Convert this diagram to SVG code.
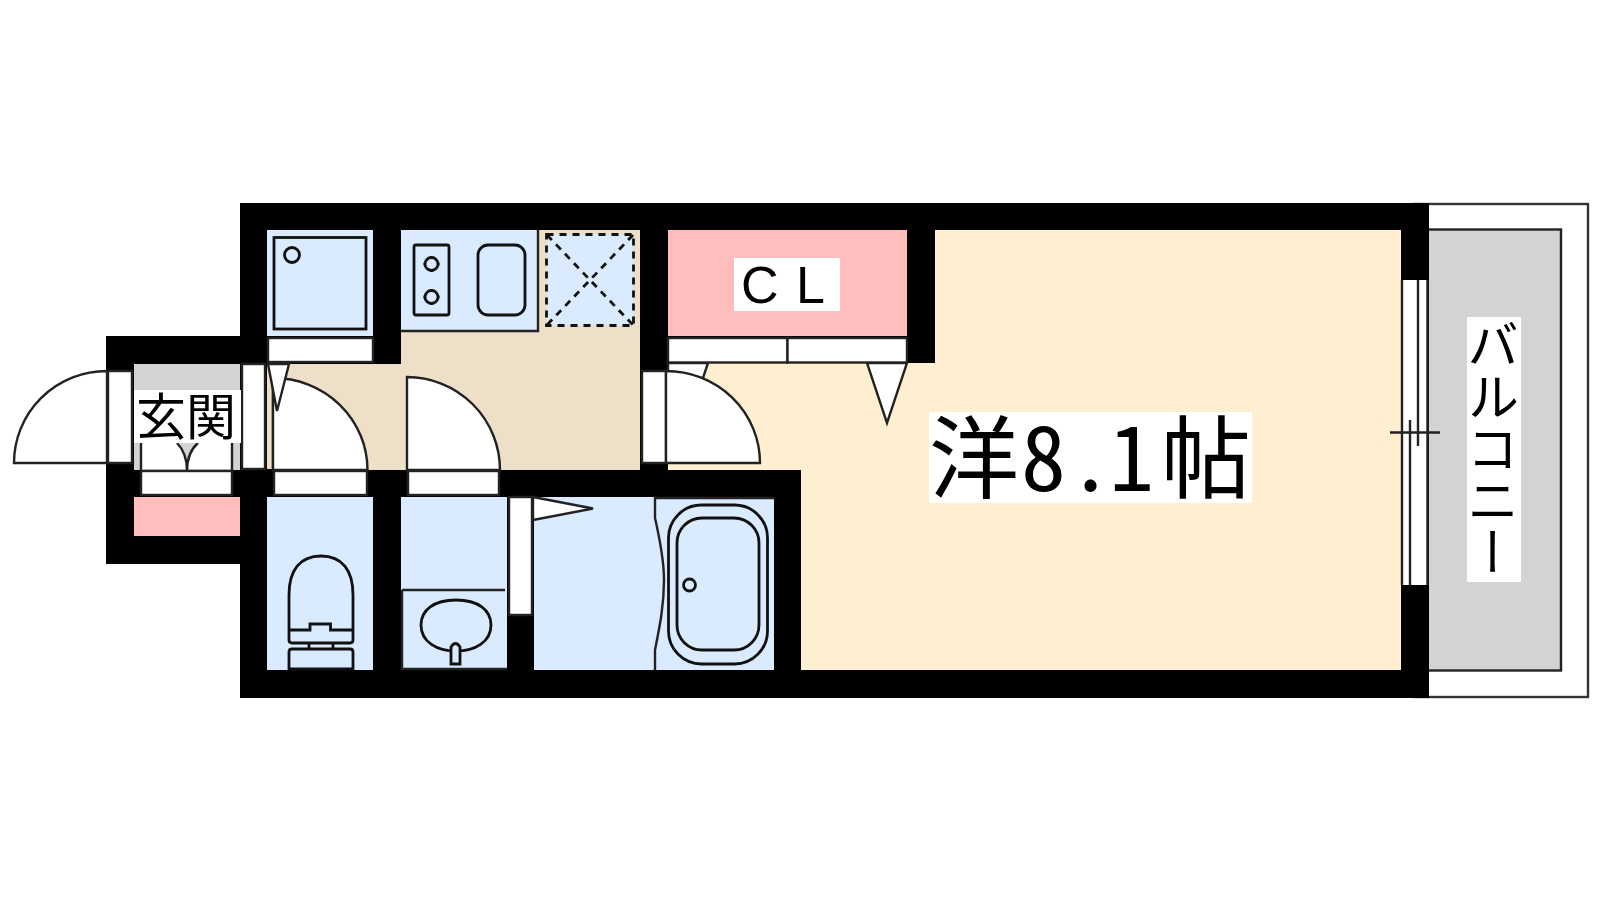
<svg xmlns="http://www.w3.org/2000/svg" width="1600" height="900" viewBox="0 0 1600 900">
<style>
.k{fill:#000}
.w{fill:#fff;stroke:#222;stroke-width:2.4}
.wn{fill:#fff}
.l{fill:none;stroke:#222;stroke-width:2.4}
.b{fill:#daeaff}
.o{fill:none;stroke:#111;stroke-width:2.8}
.p{fill:#ffbdbd}
.g{fill:#d3d3d3}
.d{fill:none;stroke:#111;stroke-width:2.8;stroke-dasharray:7 6}
.t{font-family:"Noto Sans CJK JP","Noto Sans CJK SC",sans-serif;fill:#000}
</style>
<rect width="1600" height="900" fill="#fff"/>
<g id="balcony">
<rect x="1414" y="204" width="174" height="493" fill="#fff" stroke="#333" stroke-width="2.400"/>
<rect x="1425" y="229.500" width="136" height="441" fill="#d3d3d3" stroke="#222" stroke-width="2.400"/>
</g>
<g id="walls">
<rect class="k" x="240" y="203" width="1189" height="495"/>
<rect class="k" x="106" y="336" width="140" height="228"/>
</g>
<g id="room-main">
<path fill="#fdefd0" d="M935 230H1401V670H801V470H668V363H935Z"/>
<path class="k" d="M907 230H935V363H907Z"/>
<rect class="k" x="640" y="463" width="28" height="8"/>
<path class="w" d="M867 363L907 363L887 423Z"/>
<path class="w" d="M668 363L708 363L702 381L668 381Z"/>
<rect class="w" x="642" y="371" width="24" height="92"/>
<path class="w" d="M666 371A94 92 0 0 1 760 463H666Z"/>
</g>
<g id="closet">
<rect class="p" x="668" y="230" width="239" height="106"/>
<rect class="w" x="668" y="338" width="119.500" height="24.500"/>
<rect class="w" x="787.500" y="338" width="119.500" height="24.500"/>
<rect class="wn" x="734" y="258" width="106" height="53"/>
<text class="t" style="font-family:'Liberation Sans',sans-serif;word-spacing:3px" x="741" y="303" font-size="52">C L</text>
</g>
<g id="kitchen">
<path fill="#eedfc8" d="M267 364H401V230H640V470H267Z"/>
<rect class="b" x="401" y="230" width="137" height="101"/>
<path class="l" d="M401 331H538V230"/>
<rect class="o" x="414" y="245" width="35" height="70" rx="2"/>
<circle class="o" cx="431.500" cy="264" r="6.500"/>
<circle class="o" cx="431.500" cy="297" r="6.500"/>
<path class="o" d="M431.500 256v2M431.500 270v2M431.500 289v2M431.500 303v2M423.500 264h2M437.500 264h2M423.500 297h2M437.500 297h2"/>
<rect class="o" x="478" y="245" width="47" height="70" rx="10"/>
<rect class="b" x="547" y="235" width="86" height="90"/>
<rect class="d" x="546.500" y="234.500" width="87" height="91"/>
<path class="d" d="M547 235L633 325M633 235L547 325"/>
</g>
<g id="doors-hall">
<rect class="k" x="240" y="469" width="34" height="28"/>
<rect class="k" x="367" y="470" width="434" height="27"/>
<path class="l" d="M273 364V470"/>
<path class="w" d="M273 378A94 92 0 0 1 367.500 470H273Z"/>
<path class="w" d="M268 364H289L277 411Z"/>
<path class="w" d="M407 377A93 93 0 0 1 500 470H407Z"/>
<rect class="w" x="274" y="471" width="93" height="24"/>
<rect class="w" x="408" y="471" width="91" height="24"/>
<rect class="w" x="242" y="364" width="23" height="105"/>
</g>
<g id="washer">
<rect class="b" x="267" y="230" width="106" height="106"/>
<rect class="o" x="274" y="237.500" width="92" height="91.500"/>
<circle class="o" cx="292" cy="255" r="7.500"/>
<rect class="w" x="268" y="338" width="105" height="24"/>
</g>
<g id="entrance">
<rect class="g" x="134" y="364" width="106" height="106"/>
<rect class="w" x="141" y="430" width="91" height="41"/>
<path class="g" d="M177 443C183 449 187 458 187 471C187 458 191 449 198 443Z"/>
<path class="l" d="M177 443C183 449 187 458 187 471M198 443C191 449 187 458 187 471"/>
<rect class="k" x="134" y="471" width="7" height="26"/>
<rect class="k" x="232" y="471" width="8" height="26"/>
<rect class="w" x="141" y="471" width="91" height="24"/>
<rect class="p" x="134" y="497" width="106" height="39"/>
<rect class="w" x="108" y="371" width="24" height="92"/>
<path class="w" d="M107 371A93 92 0 0 0 14 463H107Z"/>
<rect class="wn" x="134" y="390" width="107" height="53"/>
<text class="t" x="136" y="435" font-size="50">玄関</text>
</g>
<g id="toilet">
<rect class="b" x="267" y="497" width="106" height="173"/>
<path class="o" d="M289 595C289 570 300 556 321 556C342 556 353 570 353 595V640Q353 643 350 643H292Q289 643 289 640ZM289 630H310V624H330.500V630H353M309 643V650M333 643V650"/>
<path class="o" d="M289 669V652Q289 649 292 649H350Q353 649 353 652V669Z"/>
</g>
<g id="washroom">
<rect class="b" x="401" y="497" width="106" height="173"/>
<path class="l" d="M402 590H505M402 590V669H507"/>
<path class="o" d="M456 600C478 600 491 610 491 625C491 642 475 651 456 651C437 651 421 642 421 625C421 610 434 600 456 600Z"/>
<path fill="#daeaff" stroke="#111" stroke-width="2.800" d="M451 664V647Q455.500 640 460 647V664Z"/>
</g>
<g id="bath">
<rect class="b" x="534" y="497" width="240" height="173"/>
<rect class="w" x="509" y="497" width="23" height="118"/>
<path class="w" d="M533 497L593 508.500L533 520Z"/>
<path class="l" d="M774 498H655V518C660 540 664 560 664 580C664 605 660 625 655 650V670"/>
<rect class="o" x="668.500" y="505" width="99" height="159" rx="33"/>
<rect class="o" x="677" y="518" width="82" height="132" rx="25"/>
<circle class="o" cx="689.500" cy="585" r="6"/>
</g>
<g id="window">
<rect class="wn" x="1402" y="280" width="26" height="305"/>
<path class="l" d="M1402 280V585M1427.500 280V585M1418 280V446M1410 420V585M1390 432.500H1440"/>
<rect class="wn" x="1467" y="317" width="54" height="265"/>
<text class="t" x="1493" y="318" font-size="52" style="writing-mode:vertical-rl">バルコニー</text>
</g>
<g id="main-label">
<rect class="wn" x="929" y="412" width="323" height="91"/>
<text class="t" x="929 1021 1068 1109 1161" y="491" font-size="90" style="font-feature-settings:'hwid'">洋8.1帖</text>
</g>
</svg>
